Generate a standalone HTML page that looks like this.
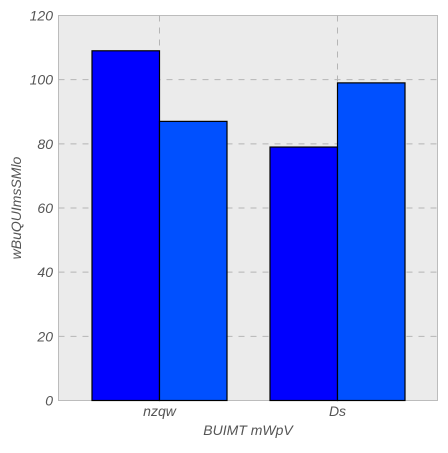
<!DOCTYPE html>
<html><head><meta charset="utf-8"><style>
body{margin:0;background:#fff;}
text{font-family:"Liberation Sans",sans-serif;font-style:italic;fill:#555;}
</style></head><body>
<svg id="chart" width="448" height="448" xmlns="http://www.w3.org/2000/svg">
<rect x="58.5" y="15.5" width="379" height="385" fill="#ebebeb" stroke="#bcbcbc"/>
<g id="grid"></g><g id="bars"></g><g id="axes"></g>
<text x="248" y="435" font-size="14" text-anchor="middle">BUIMT mWpV</text>
<text transform="translate(21,208) rotate(-90)" font-size="14" text-anchor="middle">wBuQUImsSMlo</text>
</svg>
<script>
const categories=["nzqw","Ds"];
const series1=[109,79];
const series2=[87,99];
const yTicks=[0,20,40,60,80,100,120];
const NS="http://www.w3.org/2000/svg";
const x0=58.5,x1=437.5,yTop=15.5,yBot=400.5,yMax=120;
const yS=v=>yBot-(v/yMax)*(yBot-yTop);
const groupW=(x1-x0)/categories.length*0.95;
const cx=i=>159.5+i*178;
const bw=67.5;
function mk(t,a,p){const e=document.createElementNS(NS,t);for(const k in a)e.setAttribute(k,a[k]);p.appendChild(e);return e;}
const grid=document.getElementById('grid'),bars=document.getElementById('bars'),axes=document.getElementById('axes');
yTicks.forEach(v=>{
 if(v>0&&v<yMax){const l=mk('line',{x1:x0,x2:x1,y1:yS(v),y2:yS(v),stroke:'#b5b5b5','stroke-dasharray':'6,6'},grid);
 
 }
 const t=mk('text',{x:53,y:yS(v)+5,'font-size':14,'text-anchor':'end'},axes);t.textContent=v;
 
 
});
categories.forEach((c,i)=>{
 const l=mk('line',{x1:cx(i),x2:cx(i),y1:yTop,y2:yBot,stroke:'#b5b5b5','stroke-dasharray':'6,6'},grid);
 
 
 const b1=mk('rect',{x:cx(i)-bw,y:yS(series1[i]),width:bw,height:yBot-yS(series1[i]),fill:'#0000ff',stroke:'#000','stroke-width':1.2},bars);
 
 
 const b2=mk('rect',{x:cx(i),y:yS(series2[i]),width:bw,height:yBot-yS(series2[i]),fill:'#0050ff',stroke:'#000','stroke-width':1.2},bars);
 
 
 const t=mk('text',{x:cx(i),y:416,'font-size':14,'text-anchor':'middle'},axes);t.textContent=c;
 
 
});
</script>
</body></html>
